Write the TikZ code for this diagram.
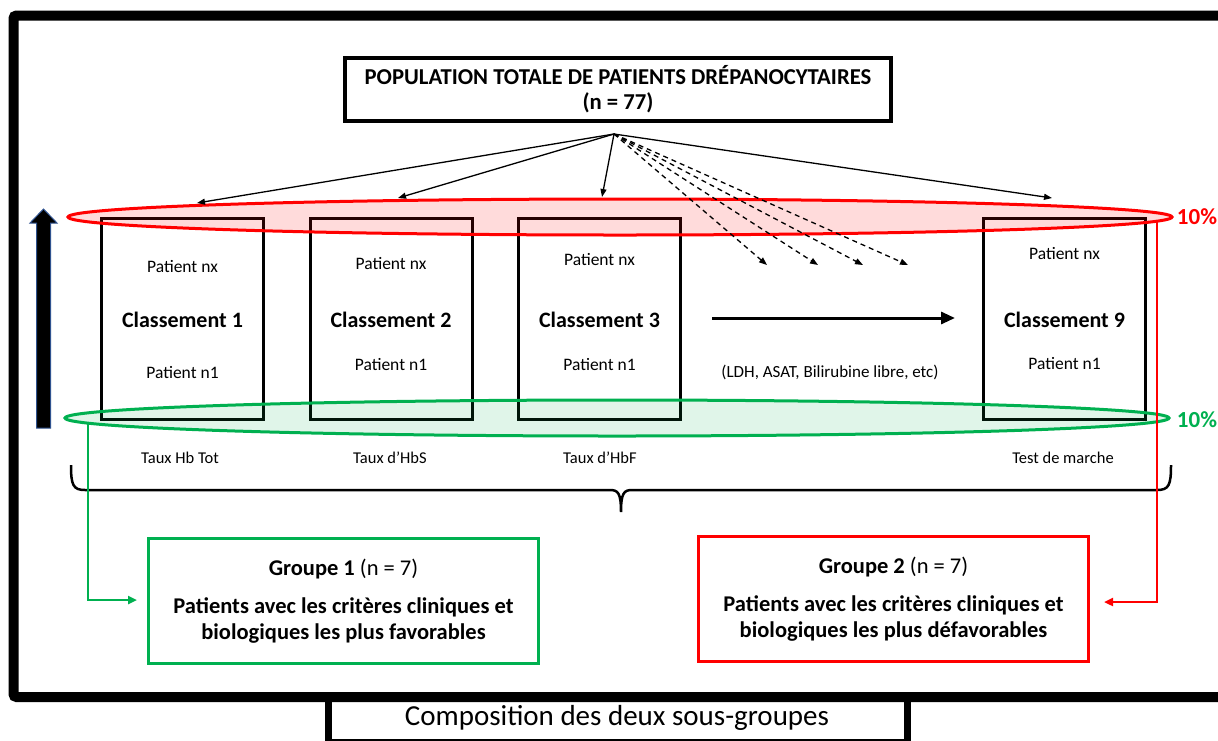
\documentclass[tikz,border=0pt]{standalone}
\usepackage{fontspec}
\setmainfont{Carlito}
\usetikzlibrary{arrows.meta}
\definecolor{vert}{RGB}{0,176,80}
\definecolor{rouge}{RGB}{255,0,0}
\definecolor{contour}{RGB}{47,82,143}

\begin{document}
\begin{tikzpicture}[x=1pt,y=-1pt,
  cadre/.style={draw=black,line width=3pt,minimum width=162pt,minimum height=201pt},
  fil/.style={line width=1.3pt,-{Triangle[length=8pt,width=6pt]}},
  pointille/.style={fil,dash pattern=on 5pt off 4pt},
  petit/.style={font=\fontsize{17.5}{20}\selectfont},
  gros/.style={font=\fontsize{22}{25}\selectfont\bfseries},
  mesure/.style={font=\fontsize{16.5}{19}\selectfont},
  groupe/.style={line width=3pt,minimum width=390pt,minimum height=125pt,align=center,font=\fontsize{22.5}{26}\selectfont},
  lien/.style={line width=2.5pt,-{Triangle[length=9pt,width=8pt]}}]
\clip (0,0) rectangle (1218,740);
\fill[white] (0,0) rectangle (1218,740);
\draw[line width=10pt,rounded corners=3pt] (13.5,15.5) rectangle (1240,697);
\draw[line width=7pt] (328,697) rectangle (907,742);
\node (legende) at (617,718) {\fontsize{29}{32}\selectfont Composition des deux sous-groupes};

\node[draw,line width=4pt,minimum width=546pt,minimum height=63pt,align=center,
  font=\fontsize{22.7}{25}\selectfont\bfseries] (pop) at (618,89.5)
  {POPULATION TOTALE DE PATIENTS DRÉPANOCYTAIRES\\(n = 77)};

\foreach \k/\cx/\num/\yh/\yb in {a/182.5/1/267/373,b/391/2/264/365,c/599.5/3/260/365,d/1064.5/9/254/364} {
  \node[cadre] (cl\k) at (\cx,319) {};
  \node[petit] (nx\k) at (\cx,\yh) {Patient nx};
  \node[gros] (nom\k) at (\cx,320) {Classement \num};
  \node[petit] (un\k) at (\cx,\yb) {Patient n1};
}

\draw[rouge,line width=3pt,fill=rouge,fill opacity=0.14] (620,217) ellipse [x radius=552pt,y radius=18pt];
\draw[vert,line width=3pt,fill=vert,fill opacity=0.12] (617,418) ellipse [x radius=552pt,y radius=18pt];
\node[rouge,font=\fontsize{23}{26}\selectfont\bfseries] (hautpc) at (1197,217) {10\%};
\node[vert,font=\fontsize{23}{26}\selectfont\bfseries] (baspc) at (1197,420) {10\%};

\coordinate (src) at (614,134);
\coordinate (f1) at (197,203);
\coordinate (f2) at (398,198);
\coordinate (f3) at (602,197);
\coordinate (f4) at (1052,198);
\coordinate (p1) at (767,265);
\coordinate (p2) at (818,265);
\coordinate (p3) at (863,265);
\coordinate (p4) at (908,265);
\foreach \i in {1,...,4} {
  \draw[fil] (src) -- (f\i);
  \draw[pointille] (src) -- (p\i);
}

\coordinate (m0) at (712,318);
\coordinate (m1) at (955,318);
\draw[line width=3pt,-{Triangle[length=14pt,width=12pt]}] (m0) -- (m1);
\node[font=\fontsize{17}{20}\selectfont] (autres) at (830,372) {(LDH, ASAT, Bilirubine libre, etc)};

\node[mesure] (ta) at (180,458) {Taux Hb Tot};
\node[mesure] (tb) at (390,458) {Taux d’HbS};
\node[mesure] (tc) at (600,458) {Taux d’HbF};
\node[mesure] (td) at (1063,458) {Test de marche};

\draw[line width=2.5pt] (71,465) .. controls (71,485) and (73,490) .. (85,490) -- (610,490)
  .. controls (618,490) and (621,493) .. (621,512) .. controls (621,493) and (624,490) .. (632,490)
  -- (1157,490) .. controls (1169,490) and (1171,485) .. (1171,465);

\draw[draw=contour,fill=black,line width=1pt] (36.5,428) -- (36.5,223) -- (30,223) -- (43.5,209)
  -- (57,223) -- (50.5,223) -- (50.5,428) -- cycle;

\node[groupe,draw=vert] (grp1) at (343.5,601)
  {\textbf{Groupe 1} (n = 7)\\[12pt]\textbf{Patients avec les critères cliniques et}\\\textbf{biologiques les plus favorables}};
\node[groupe,draw=rouge] (grp2) at (893.5,599)
  {\textbf{Groupe 2} (n = 7)\\[12pt]\textbf{Patients avec les critères cliniques et}\\\textbf{biologiques les plus défavorables}};

\coordinate (v0) at (88,423);
\coordinate (v1) at (137,600);
\coordinate (r0) at (1157,221);
\coordinate (r1) at (1104,602);
\draw[lien,vert] (v0) |- (v1);
\draw[lien,rouge] (r0) |- (r1);
\end{tikzpicture}
\end{document}
